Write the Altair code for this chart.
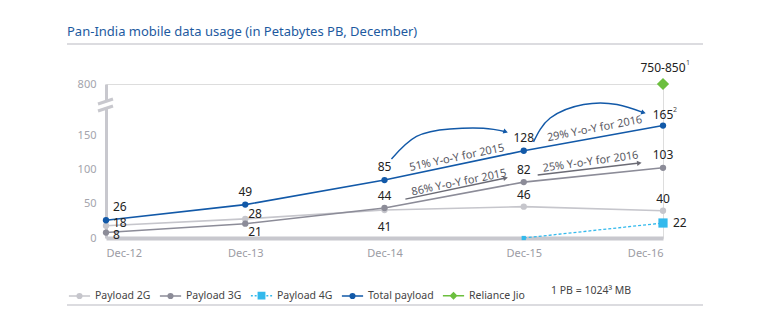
import json
import altair as alt
import pandas as pd

# ---------------- data ----------------
periods = ["Dec-12", "Dec-13", "Dec-14", "Dec-15", "Dec-16"]
payload_2g = [18, 28, 41, 46, 40]
payload_3g = [8, 21, 44, 82, 103]
payload_4g = [None, None, None, 0, 22]
total_payload = [26, 49, 85, 128, 165]
jio_period_index = 4
jio_value = 800          # plotted above the axis break
jio_label = "750-850"

series_names = ["Payload 2G", "Payload 3G", "Payload 4G", "Total payload", "Reliance Jio"]
series_colors = ["#c6c6cc", "#8c8c98", "#33b9ec", "#1259a8", "#6cbf3e"]

# Y-o-Y annotation geometry (x in period index, y in PB)
arc_2015_x = [2.05, 2.23, 2.47, 2.71, 2.87]
arc_2015_y = [116, 149, 160, 161, 156]
arc_2016_x = [3.07, 3.19, 3.43, 3.67, 3.86]
arc_2016_y = [141, 176, 196, 196, 184]
arrow3g_2015_x = [2.15, 2.87]
arrow3g_2015_y = [57, 88]
arrow3g_2016_x = [3.10, 3.83]
arrow3g_2016_y = [92.5, 110]
yoy_texts = ["51% Y-o-Y for 2015", "29% Y-o-Y for 2016", "86% Y-o-Y for 2015", "25% Y-o-Y for 2016"]
yoy_x = [2.52, 3.51, 2.535, 3.48]
yoy_y = [117.5, 160, 81, 111.5]
yoy_angle = [348, 349, 348.5, 352]

# axis break: values above the break are shifted down onto the 800 tick
BREAK_TOP = 226
BREAK_SHIFT = jio_value - BREAK_TOP


def disp(v):
    return v - BREAK_SHIFT if v > 500 else v


FONT = "Noto Sans"
AXIS_GREY = "#c8c8ce"

# ---------------- tables ----------------
rows = []
for name, vals in [("Payload 2G", payload_2g), ("Payload 3G", payload_3g),
                   ("Payload 4G", payload_4g), ("Total payload", total_payload)]:
    for i, v in enumerate(vals):
        if v is None:
            continue
        rows.append({"series": name, "idx": i, "disp": disp(v), "label": str(v)})
df = pd.DataFrame(rows)

jio_df = pd.DataFrame([{"series": "Reliance Jio", "idx": jio_period_index,
                        "disp": disp(jio_value), "label": jio_label}])

labels_js = json.dumps(periods)

X = alt.X("idx:Q", scale=alt.Scale(domain=[0, 4], nice=False, zero=False),
          axis=alt.Axis(values=[0, 1, 2, 3, 4], labelExpr=f"{labels_js}[datum.value]",
                        title=None, grid=False, ticks=False, domainColor=AXIS_GREY,
                        domainWidth=4, labelColor="#9c9ca4", labelFontSize=11,
                        labelFont=FONT, labelPadding=9))
Y = alt.Y("disp:Q", scale=alt.Scale(domain=[0, BREAK_TOP], nice=False, zero=False),
          axis=alt.Axis(values=[0, 50, 100, 150, BREAK_TOP],
                        labelExpr=f"datum.value > 200 ? '{jio_value}' : datum.label",
                        title=None, grid=False, ticks=False, domainColor=AXIS_GREY,
                        domainWidth=3, labelColor="#a4a4ac", labelFontSize=11,
                        labelFont=FONT, labelPadding=10))

color_scale = alt.Scale(domain=series_names, range=series_colors)

base = alt.Chart(df)

solid = base.transform_filter(
    alt.FieldOneOfPredicate(field="series", oneOf=["Payload 2G", "Payload 3G", "Total payload"])
).mark_line(strokeWidth=1.6).encode(
    x=X, y=Y, color=alt.Color("series:N", scale=color_scale, legend=None),
    strokeWidth=alt.StrokeWidth("series:N", scale=alt.Scale(
        domain=["Payload 2G", "Payload 3G", "Total payload"], range=[1.6, 1.6, 2]), legend=None),
    order="idx:Q")

dashed = base.transform_filter(alt.datum.series == "Payload 4G").mark_line(
    strokeDash=[3, 2], strokeWidth=1.3, color=series_colors[2]).encode(x=X, y=Y)

dots = base.transform_filter(
    alt.FieldOneOfPredicate(field="series", oneOf=["Payload 2G", "Payload 3G", "Total payload"])
).mark_circle(opacity=1, size=40).encode(
    x=X, y=Y, color=alt.Color("series:N", scale=color_scale, legend=None))

squares = base.transform_filter(alt.datum.series == "Payload 4G").mark_square(
    opacity=1, color=series_colors[2]).encode(
    x=X, y=Y, size=alt.condition(alt.datum.disp > 0, alt.value(85), alt.value(18)))

jio = alt.Chart(jio_df).mark_point(shape="diamond", filled=True, opacity=1, size=150,
                                   color=series_colors[4]).encode(x=X, y=Y)


def lbl(series, idx, dx, dy, align="center", source=None):
    src = df if source is None else source
    d = src[(src.series == series) & (src.idx.isin(idx))]
    return alt.Chart(d).mark_text(dx=dx, dy=dy, align=align, baseline="middle",
                                  fontSize=12, font=FONT, color="#222").encode(
        x=X, y=Y, text="label:N")


labels = [
    lbl("Total payload", [1, 2, 3], 0, -13),
    lbl("Total payload", [4], 0, -11),
    lbl("Total payload", [0], 7, -13, "left"),
    lbl("Payload 3G", [2, 3], 0, -12),
    lbl("Payload 3G", [4], 0, -13),
    lbl("Payload 2G", [3, 4], 0, -12),
    lbl("Payload 2G", [0], 7, -3, "left"),
    lbl("Payload 3G", [0], 7, 2, "left"),
    lbl("Payload 2G", [1], 3, -5, "left"),
    lbl("Payload 3G", [1], 3, 8, "left"),
    lbl("Payload 2G", [2], 0, 17),
    lbl("Payload 4G", [4], 10, 0, "left"),
    lbl("Reliance Jio", [4], 0, -16, source=jio_df),
]

# superscripts
sup2 = alt.Chart(df[(df.series == "Total payload") & (df.idx == 4)]).mark_text(
    dx=12, dy=-16, fontSize=7, font=FONT, color="#444").encode(x=X, y=Y, text=alt.value("2"))
sup1 = alt.Chart(jio_df).mark_text(dx=25, dy=-21, fontSize=7, font=FONT, color="#444").encode(
    x=X, y=Y, text=alt.value("1"))

# annotations
ann = []
for xs, ys, col, ang in [(arc_2015_x, arc_2015_y, series_colors[3], 18),
                         (arc_2016_x, arc_2016_y, series_colors[3], 18),
                         (arrow3g_2015_x, arrow3g_2015_y, "#6b6b75", 348),
                         (arrow3g_2016_x, arrow3g_2016_y, "#6b6b75", 353)]:
    d = pd.DataFrame({"idx": xs, "disp": ys, "o": list(range(len(xs)))})
    ann.append(alt.Chart(d).mark_line(color=col, strokeWidth=1.4, interpolate="natural").encode(
        x=X, y=Y, order="o:Q"))
    ann.append(alt.Chart(d.tail(1)).mark_point(shape="triangle-right", filled=True, opacity=1,
                                                 size=28, color=col, angle=ang).encode(x=X, y=Y))

for t, xx, yy, a in zip(yoy_texts, yoy_x, yoy_y, yoy_angle):
    d = pd.DataFrame({"idx": [xx], "disp": [yy], "label": [t]})
    ann.append(alt.Chart(d).mark_text(angle=a, fontSize=11, font=FONT, color="#5a5a64",
                                      align="center", baseline="middle").encode(
        x=X, y=Y, text="label:N"))

# legend (points kept outside the clipped plot; only the legend shows)
dot = "M0.22,0A0.22,0.22,0,1,1,-0.22,0A0.22,0.22,0,1,1,0.22,0Z"
legend_shapes = [
    "M-1,0H1" + dot,
    "M-1,0H1" + dot,
    "M-1,0H-0.82M-0.64,0H-0.46M0.46,0H0.64M0.82,0H1M-0.3,-0.3H0.3V0.3H-0.3Z",
    "M-1,0H1" + dot,
    "M-1,0H1M0,-0.28L0.28,0L0,0.28L-0.28,0Z",
]
LEG = dict(orient="none", legendX=-38, legendY=200, direction="horizontal", title=None,
           symbolSize=450, symbolStrokeWidth=1.5, labelFontSize=10.5, labelFont=FONT,
           labelColor="#444", columnPadding=5, labelOffset=4, symbolOpacity=1,
           labelLimit=200)
leg_df = pd.DataFrame({"series": series_names, "idx": [0] * 5, "disp": [-1000] * 5})
legend_layer = alt.Chart(leg_df).mark_point(clip=True, strokeWidth=1.5, opacity=1).encode(
    x=X, y=Y,
    fill=alt.Fill("series:N", scale=alt.Scale(domain=series_names, range=series_colors),
                  sort=series_names, legend=alt.Legend(**LEG)),
    stroke=alt.Stroke("series:N", scale=alt.Scale(domain=series_names, range=series_colors),
                      sort=series_names, legend=alt.Legend(**LEG)),
    shape=alt.Shape("series:N", scale=alt.Scale(domain=series_names, range=legend_shapes),
                    sort=series_names, legend=alt.Legend(**LEG)),
)

# decorations
def rule(x1, x2, y1, y2, col, w):
    return alt.Chart(pd.DataFrame({"a": [0]})).mark_rule(color=col, strokeWidth=w).encode(
        x=alt.value(x1), x2=alt.value(x2), y=alt.value(y1), y2=alt.value(y2))

deco = [
    rule(0, 0, 18, 23, "white", 5),
    rule(-8, 7, 20, 15, AXIS_GREY, 3),
    rule(-8, 7, 27, 22, AXIS_GREY, 3),
    rule(-39, 597, -40, -40, "#d0d0d6", 1.5),
    rule(-39, 597, 221, 221, "#d0d0d6", 1.5),
]
title = alt.Chart(pd.DataFrame({"a": [0]})).mark_text(
    align="left", baseline="middle", fontSize=13, font=FONT, color="#1d5aa0").encode(
    x=alt.value(-39), y=alt.value(-52),
    text=alt.value("Pan-India mobile data usage (in Petabytes PB, December)"))
pb_note = alt.Chart(pd.DataFrame({"a": [0]})).mark_text(
    align="left", baseline="middle", fontSize=10.5, font=FONT, color="#444").encode(
    x=alt.value(445), y=alt.value(207), text=alt.value("1 PB = 1024³ MB"))

chart = alt.layer(
    legend_layer, solid, dashed, dots, squares, jio, *ann, *labels, sup2, sup1,
    *deco, title, pb_note
).properties(
    width=557, height=154,
    autosize=alt.AutoSizeParams(type="none"),
    padding={"left": 106, "top": 84, "right": 107, "bottom": 91},
).configure_view(stroke=None).configure(background="white")

chart.save("out.html", embed_options={"renderer": "svg", "actions": False})
